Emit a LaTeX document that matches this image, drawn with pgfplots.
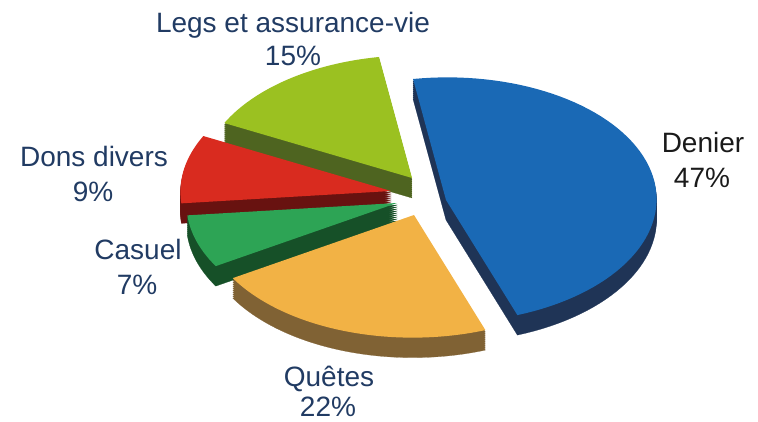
\documentclass[border=0pt]{standalone}
\usepackage{pgfplots}
\pgfplotsset{compat=1.18}
\usepackage{fontspec}
\setmainfont{Liberation Sans}
\definecolor{navy}{RGB}{33,59,99}
\definecolor{ink}{RGB}{26,26,26}
\definecolor{cDen}{RGB}{26,105,181}\definecolor{sDen}{RGB}{31,52,86}
\definecolor{cQue}{RGB}{242,178,69}\definecolor{sQue}{RGB}{128,98,52}
\definecolor{cCas}{RGB}{45,164,85}\definecolor{sCas}{RGB}{22,80,40}
\definecolor{cDon}{RGB}{217,43,31}\definecolor{sDon}{RGB}{104,18,16}
\definecolor{cLeg}{RGB}{155,193,33}\definecolor{sLeg}{RGB}{78,100,32}
% ellipse frame (pixels): P(t) = apex + u cos t + v sin t
\def\ux{208}\def\uy{20}\def\vx{-33}\def\vy{121}
\newcommand{\slice}[6]{%
  \pgfplotsinvokeforeach{20,18,...,2}{%
    \addplot[fill=#6, draw=#6, line width=0.2pt, domain=#3:#4, samples=70, variable=\t]
      ({#1 + \ux*cos(\t) + \vx*sin(\t)}, {#2 - ##1 + \uy*cos(\t) + \vy*sin(\t)})
      -- (axis cs:#1,#2-##1) -- cycle;
  }
  \addplot[fill=#5, draw=none, domain=#3:#4, samples=70, variable=\t]
    ({#1 + \ux*cos(\t) + \vx*sin(\t)}, {#2 + \uy*cos(\t) + \vy*sin(\t)})
    -- (axis cs:#1,#2) -- cycle;
}
\newcommand{\lbl}{\fontsize{28bp}{33bp}\selectfont}
\begin{document}
\begin{tikzpicture}
% shares in percent
\def\pDen{47}\def\pQue{22}\def\pCas{7}\def\pDon{9}\def\pLeg{15}
\pgfmathsetmacro{\aA}{90}
\pgfmathsetmacro{\aB}{\aA-3.6*\pDen}
\pgfmathsetmacro{\aC}{\aB-3.6*\pQue}
\pgfmathsetmacro{\aD}{\aC-3.6*\pCas}
\pgfmathsetmacro{\aE}{\aD-3.6*\pDon}
\pgfmathsetmacro{\aF}{\aE-3.6*\pLeg}
\begin{axis}[scale only axis, width=758bp, height=422bp,
  xmin=0, xmax=758, ymin=0, ymax=422, hide axis, clip=false]
\slice{412}{244}{\aF}{\aE}{cLeg}{sLeg}
\slice{391}{231}{\aE}{\aD}{cDon}{sDon}
\slice{397}{219}{\aD}{\aC}{cCas}{sCas}
\slice{414}{207}{\aC}{\aB}{cQue}{sQue}
\slice{446}{222}{\aB}{\aA}{cDen}{sDen}
\coordinate (SW) at (axis cs:0,0);
\coordinate (NE) at (axis cs:758,422);
\tikzset{every node/.style={inner sep=0pt, anchor=base, font=\lbl}}
\node[text=navy] at (axis cs:293,389) {Legs et assurance-vie};
\node[text=navy] at (axis cs:293,356) {\pLeg\%};
\node[text=ink] at (axis cs:703,269) {Denier};
\node[text=ink] at (axis cs:702,234) {\pDen\%};
\node[text=navy] at (axis cs:94,255) {Dons divers};
\node[text=navy] at (axis cs:93,220) {\pDon\%};
\node[text=navy] at (axis cs:138,162) {Casuel};
\node[text=navy] at (axis cs:137,127) {\pCas\%};
\node[text=navy] at (axis cs:329,35) {Quêtes};
\node[text=navy] at (axis cs:328,5) {\pQue\%};
\end{axis}
\pgfresetboundingbox
\useasboundingbox (SW) rectangle (NE);
\end{tikzpicture}
\end{document}
